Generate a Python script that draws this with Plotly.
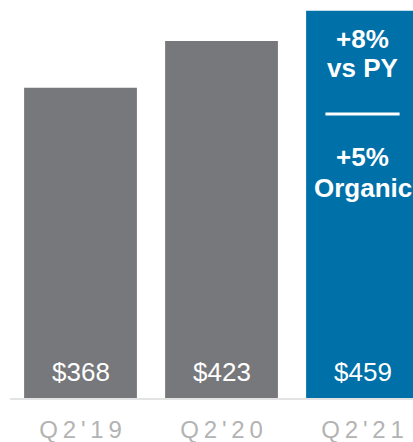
import plotly.graph_objects as go

categories = ["Q2'19", "Q2'20", "Q2'21"]
values = [368, 423, 459]
value_labels = ["$368", "$423", "$459"]
bar_colors = ["#77787b", "#77787b", "#0070a8"]
growth_lines = ["+8%", "vs PY", "+5%", "Organic"]

SP = "\u2009"  # thin space used as letter spacing
def spaced(s):
    return SP.join(list(s))

FONT = "Arial, Liberation Sans, sans-serif"

fig = go.Figure()
fig.add_trace(go.Bar(
    x=list(range(len(categories))),
    y=values,
    marker=dict(color=bar_colors, line=dict(width=0)),
    width=0.8,
    hoverinfo="skip",
))

# value labels near bar base
for i, lab in enumerate(value_labels):
    fig.add_annotation(x=i, y=32, xref="x", yref="y", text=lab,
                       showarrow=False, yanchor="middle", xanchor="center",
                       font=dict(family=FONT, size=26, color="white"))

# growth call-out in last bar
callout_y = [425.5, 391.8, 285.5, 249.4]
for txt, yy in zip(growth_lines, callout_y):
    fig.add_annotation(x=2, y=yy, xref="x", yref="y", text="<b>%s</b>" % txt,
                       showarrow=False, yanchor="middle", xanchor="center",
                       font=dict(family=FONT, size=26, color="white"))

fig.add_shape(type="line", xref="x", yref="y", x0=2 - 0.263, x1=2 + 0.263,
              y0=337, y1=337, line=dict(color="white", width=3))

# baseline
fig.add_shape(type="line", xref="x", yref="paper", x0=-0.5, x1=2.5, y0=0, y1=0,
              line=dict(color="#e3e3e3", width=2), layer="above")

fig.update_layout(
    width=413, height=442,
    margin=dict(l=0, r=0, t=0, b=43),
    paper_bgcolor="white", plot_bgcolor="white",
    showlegend=False,
    xaxis=dict(range=[-0.571, 2.358], tickmode="array",
               tickvals=list(range(len(categories))),
               ticktext=[spaced(c) for c in categories],
               tickfont=dict(family=FONT, size=24, color="#b3b3b3"),
               ticklabelstandoff=14,
               showgrid=False, zeroline=False, showline=False, ticks="",
               fixedrange=True),
    yaxis=dict(range=[0, 471.6], visible=False, fixedrange=True),
)

fig.write_html("out.html", config={"displayModeBar": False},
               post_script="document.body.style.margin='0';document.body.style.overflow='hidden';")
